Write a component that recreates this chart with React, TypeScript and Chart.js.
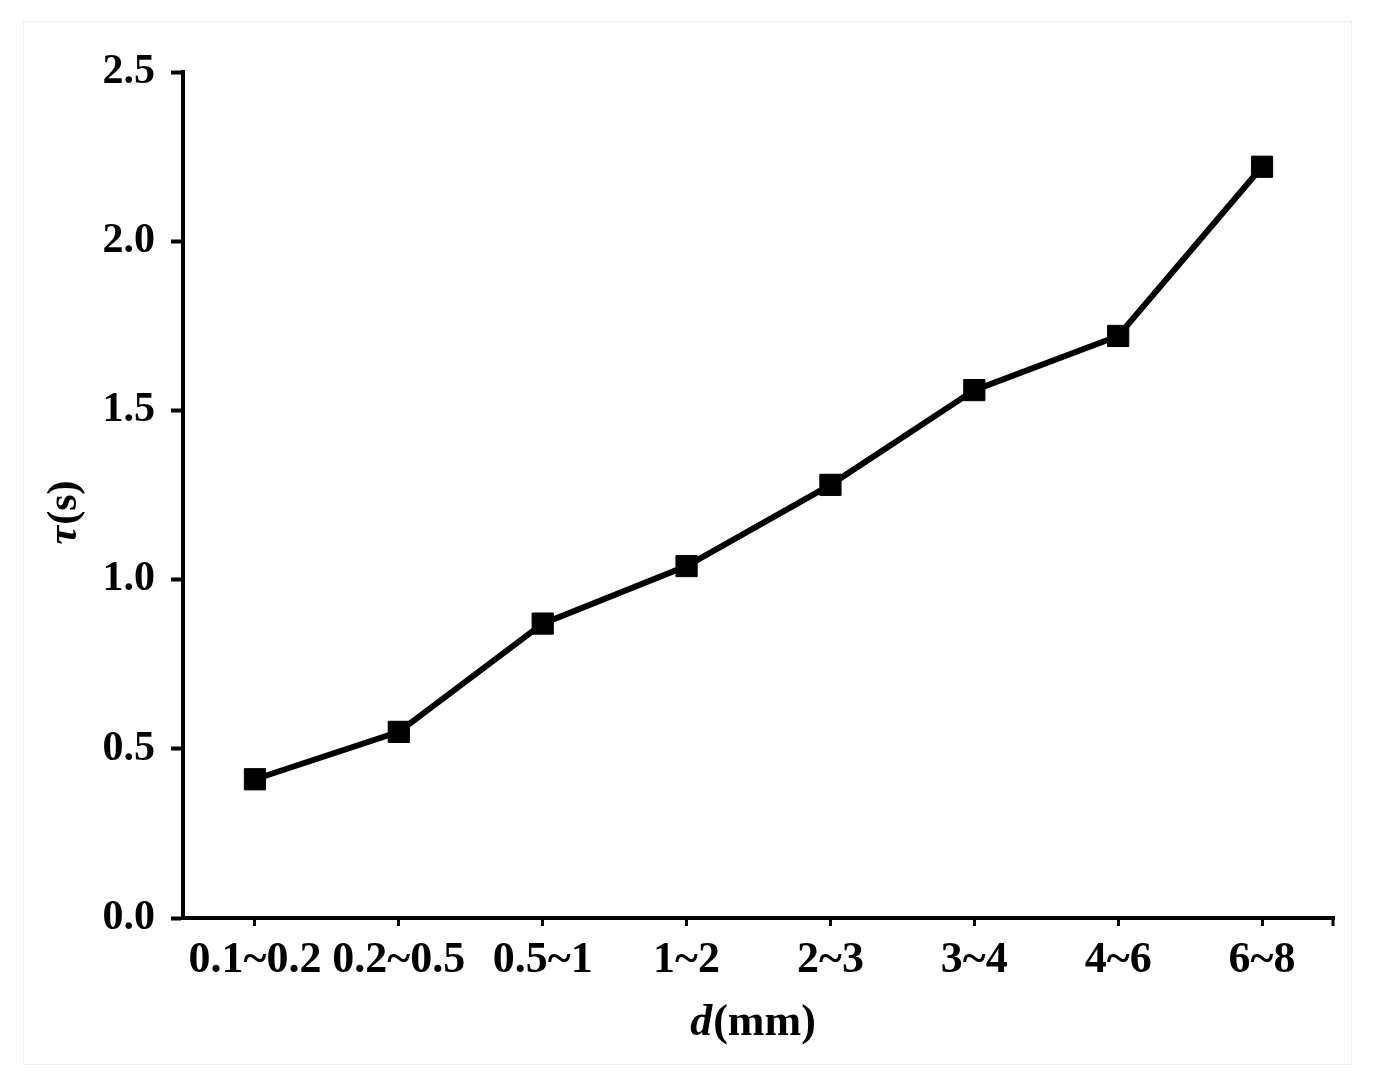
import React, { useEffect, useRef } from "react";
import { Chart, registerables } from "chart.js";

Chart.register(...registerables);

const categories: string[] = ["0.1~0.2", "0.2~0.5", "0.5~1", "1~2", "2~3", "3~4", "4~6", "6~8"];
const tauValues: number[] = [0.41, 0.55, 0.87, 1.04, 1.28, 1.56, 1.72, 2.22];
const yTickValues: number[] = [0, 0.5, 1.0, 1.5, 2.0, 2.5];

const FONT = "'Liberation Serif', 'Times New Roman', serif";

const titlePlugin = {
  id: "customTitles",
  afterDraw(chart: any) {
    const ctx = chart.ctx;
    const area = chart.chartArea;
    ctx.save();
    ctx.fillStyle = "#000";
    ctx.textBaseline = "alphabetic";
    // x title: italic d + (mm)
    const f1 = `italic bold 44px ${FONT}`;
    const f2 = `bold 44px ${FONT}`;
    ctx.font = f1;
    const w1 = ctx.measureText("d").width;
    ctx.font = f2;
    const w2 = ctx.measureText("(mm)").width;
    const cx = (area.left + area.right) / 2 - 6;
    const startX = cx - (w1 + w2) / 2;
    const by = area.bottom + 117;
    ctx.font = f1;
    ctx.fillText("d", startX, by);
    ctx.font = f2;
    ctx.fillText("(mm)", startX + w1 + 1, by);

    // y title rotated
    ctx.save();
    ctx.translate(area.left - 118, (area.top + area.bottom) / 2 + 18);
    ctx.rotate(-Math.PI / 2);
    const g1 = `italic bold 42px ${FONT}`;
    const g2 = `bold 42px ${FONT}`;
    ctx.font = g1;
    const v1 = ctx.measureText("τ").width;
    ctx.font = g2;
    const v2 = ctx.measureText("(s)").width;
    const sx = -(v1 + v2) / 2;
    ctx.textBaseline = "middle";
    ctx.font = g1;
    ctx.fillText("τ", sx, 0);
    ctx.font = g2;
    ctx.fillText("(s)", sx + v1 + 1, 0);
    ctx.restore();

    // end tick on x axis
    ctx.strokeStyle = "#000";
    ctx.lineWidth = 3;
    ctx.beginPath();
    ctx.moveTo(area.right - 1, area.bottom);
    ctx.lineTo(area.right - 1, area.bottom + 8);
    ctx.stroke();
    ctx.restore();
  },
};

export default function App() {
  const canvasRef = useRef<HTMLCanvasElement | null>(null);

  useEffect(() => {
    if (!canvasRef.current) return;
    const chart = new Chart(canvasRef.current, {
      type: "line",
      data: {
        labels: categories,
        datasets: [
          {
            data: tauValues,
            borderColor: "#000",
            backgroundColor: "#000",
            borderWidth: 6,
            tension: 0,
            pointStyle: "rect",
            pointRadius: 15,
            pointBorderWidth: 1,
            pointBackgroundColor: "#000",
            pointBorderColor: "#000",
            clip: false as any,
          },
        ],
      },
      options: {
        responsive: false,
        animation: false,
        layout: { padding: { top: 64, right: 37, left: 0, bottom: 0 } },
        plugins: {
          legend: { display: false },
          tooltip: { enabled: false },
        },
        scales: {
          x: {
            type: "category",
            offset: true,
            afterFit: (scale: any) => {
              scale.height = 162;
            },
            grid: {
              offset: false,
              drawOnChartArea: false,
              drawTicks: true,
              tickLength: 8,
              tickWidth: 3,
              tickColor: "#000",
            },
            border: { display: true, color: "#000", width: 4 },
            ticks: {
              color: "#000",
              font: { family: FONT, size: 44, weight: "bold" },
              padding: 8,
              maxRotation: 0,
              autoSkip: false,
            },
          },
          y: {
            type: "linear",
            min: 0,
            max: 2.5,
            afterFit: (scale: any) => {
              scale.width = 175;
            },
            afterBuildTicks: (scale: any) => {
              scale.ticks = yTickValues.map((v) => ({ value: v }));
            },
            grid: {
              drawOnChartArea: false,
              drawTicks: true,
              tickLength: 12,
              tickWidth: 4,
              tickColor: "#000",
            },
            border: { display: true, color: "#000", width: 4 },
            ticks: {
              color: "#000",
              font: { family: FONT, size: 42, weight: "bold" },
              padding: 16,
              callback: (v: any) => Number(v).toFixed(1),
            },
          },
        },
      },
      plugins: [titlePlugin],
    });
    return () => chart.destroy();
  }, []);

  return (
    <div style={{ position: "relative", width: 1363, height: 1072 }}>
      <div
        style={{
          position: "absolute",
          left: 15,
          top: 13,
          width: 1327,
          height: 1042,
          border: "1px solid #eeeeee",
        }}
      />
      <canvas
        ref={canvasRef}
        width={1363}
        height={1072}
        style={{ position: "absolute", left: 0, top: 0, width: 1363, height: 1072 }}
      />
    </div>
  );
}
